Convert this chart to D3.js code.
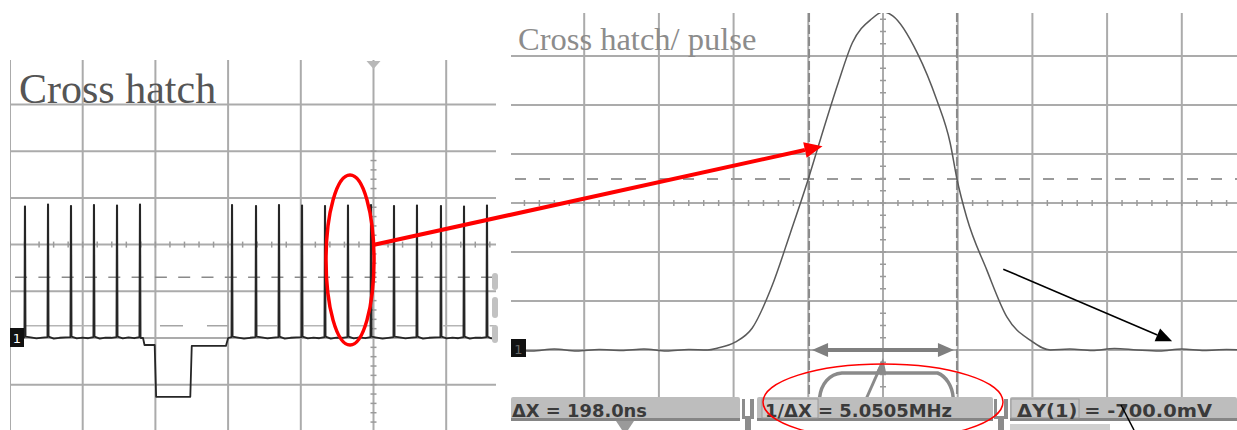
<!DOCTYPE html>
<html><head><meta charset="utf-8">
<script src="https://cdn.jsdelivr.net/npm/d3@7"></script>
<style>body{margin:0;background:#fff}svg{display:block}</style>
</head><body>
<svg id="c" width="1237" height="430"></svg>
<script>
// ---------------- data ----------------
const leftTitle = "Cross hatch";
const rightTitle = "Cross hatch/ pulse";
// Left scope (divisions: x from left edge of screen, y from trace baseline)
const leftSpikeX   = [0.206,0.523,0.839,1.155,1.472,1.788,3.054,3.384,3.700,4.017,4.333,4.649,4.966,5.282,5.598,5.928,6.245,6.561];
const leftSpikeTop = [2.82,2.86,2.83,2.85,2.84,2.86,2.85,2.83,2.85,2.84,2.83,2.84,2.85,2.83,2.84,2.83,2.82,2.84];
const leftLowX = [1.80,1.83,1.85,1.99,2.01,2.48,2.50,2.97,3.00];
const leftLowY = [0.00,0.00,-0.15,-0.15,-1.26,-1.26,-0.17,-0.17,0.00];
const leftNoise = [0.015,-0.01,0.01,-0.015,0.005,0.015,-0.01,0.01,-0.005,-0.015,0.01,0.005,-0.01,0.015,-0.005,0.01,-0.015,0.005];
// Right scope: pulse, time (ns) vs amplitude (mV)
const pulseT  = [-500,-470,-440,-410,-380,-350,-320,-290,-260,-235,-221,-198,-175,-149,-124,-100,-87,-60,-41,-15,0,13,46,72,90,99,112,139,166,197,224,250,280,310,340,370,400,430,460,480];
const pulseMV = [1,-2,2,-2,1,-1,2,-2,1,0,4,16,45,129,239,349,414,545,627,676,690,682,606,510,422,349,271,163,67,20,0,2,-1,3,0,-2,2,-1,1,0];
const cursorT = [-99, 99];
const halfLevelMV = 349;
const readouts = ["\u0394X = 198.0ns", "1/\u0394X = 5.0505MHz", "\u0394Y(1) = -700.0mV"];

// ---------------- setup ----------------
const svg = d3.select("#c");
const defs = svg.append("defs");
const gridCol = "#ababab";

// ===== LEFT SCOPE =====
const LX = d3.scaleLinear().domain([0, 1]).range([10, 82.7]);
const LY = d3.scaleLinear().domain([0, 1]).range([338, 291.3]);
defs.append("clipPath").attr("id","clipL").append("rect")
  .attr("x",10).attr("y",60).attr("width",486).attr("height",370);
const gL = svg.append("g").attr("clip-path","url(#clipL)");

gL.selectAll(".vl").data(d3.range(0,7)).join("line")
  .attr("x1",d=>LX(d)).attr("x2",d=>LX(d)).attr("y1",60).attr("y2",430)
  .attr("stroke",gridCol).attr("stroke-width",2);
gL.selectAll(".hl").data(d3.range(-1,6)).join("line")
  .attr("x1",10).attr("x2",496).attr("y1",d=>LY(d)).attr("y2",d=>LY(d))
  .attr("stroke",gridCol).attr("stroke-width",2);
gL.selectAll(".tx").data(d3.range(0,34).map(i=>i/5)).join("line")
  .attr("x1",d=>LX(d)).attr("x2",d=>LX(d)).attr("y1",LY(2)-3).attr("y2",LY(2)+3)
  .attr("stroke","#9a9a9a").attr("stroke-width",1.5);
gL.selectAll(".ty").data(d3.range(-10,21).map(i=>i/5)).join("line")
  .attr("x1",LX(5)-3).attr("x2",LX(5)+3).attr("y1",d=>LY(d)).attr("y2",d=>LY(d))
  .attr("stroke","#9a9a9a").attr("stroke-width",1.5);
gL.append("line").attr("x1",LX(0.07)).attr("x2",496).attr("y1",LY(1.3)).attr("y2",LY(1.3))
  .attr("stroke","#8a8a8a").attr("stroke-width",1.5).attr("stroke-dasharray","12,11.3");
gL.append("line").attr("x1",LX(0.21)).attr("x2",LX(1.79)).attr("y1",LY(0.26)).attr("y2",LY(0.26))
  .attr("stroke","#b5b5b5").attr("stroke-width",1.5);
gL.append("line").attr("x1",LX(2.063)).attr("x2",LX(3.0)).attr("y1",LY(0.26)).attr("y2",LY(0.26))
  .attr("stroke","#a5a5a5").attr("stroke-width",1.5).attr("stroke-dasharray","23,24");
gL.append("line").attr("x1",LX(3.40)).attr("x2",496).attr("y1",LY(0.26)).attr("y2",LY(0.26))
  .attr("stroke","#b5b5b5").attr("stroke-width",1.5).attr("stroke-dasharray","20,26.5");

const pts = [[0.19,0]];
let k = 0;
leftSpikeX.forEach((s,i)=>{
  const top = leftSpikeTop[i];
  pts.push([s-0.008,0.02],[s-0.002,top],[s+0.002,top],[s+0.008,0.03]);
  const next = i < leftSpikeX.length-1 ? leftSpikeX[i+1] : 6.8;
  if (i === 5) {
    leftLowX.forEach((x,j)=>pts.push([x,leftLowY[j]]));
  } else {
    [0.25,0.5,0.75].forEach(f=>pts.push([s+(next-s)*f, leftNoise[(k++)%leftNoise.length]]));
  }
});
gL.append("path").datum(pts)
  .attr("d", d3.line().x(d=>LX(d[0])).y(d=>LY(d[1])))
  .attr("fill","none").attr("stroke","#262626").attr("stroke-width",1.8).attr("stroke-linejoin","round");

svg.append("path").attr("d",`M${LX(5)-7},61 L${LX(5)+7},61 L${LX(5)},69 Z`).attr("fill","#b8b8b8");
[[273,290],[297,318],[325,343]].forEach(([a,b])=>{
  svg.append("rect").attr("x",492).attr("y",a).attr("width",6).attr("height",b-a).attr("rx",3).attr("fill","#c2c2c2");
});
svg.append("rect").attr("x",10).attr("y",LY(0)-10).attr("width",14).attr("height",19).attr("fill","#111");
svg.append("text").attr("x",17).attr("y",LY(0)+5).attr("text-anchor","middle")
  .attr("font-family","DejaVu Sans").attr("font-size",13).attr("fill","#fff").text("1");
svg.append("text").attr("x",19).attr("y",103).attr("font-family","Liberation Serif, serif")
  .attr("font-size",42).attr("fill","#555").text(leftTitle);

// ===== RIGHT SCOPE =====
const RX = d3.scaleLinear().domain([0,100]).range([883,957.7]);
const RY = d3.scaleLinear().domain([0,100]).range([350,301]);
defs.append("clipPath").attr("id","clipR").append("rect")
  .attr("x",511).attr("y",13).attr("width",726).attr("height",384);
const gR = svg.append("g").attr("clip-path","url(#clipR)");

gR.selectAll(".vl").data(d3.range(-400,500,100)).join("line")
  .attr("x1",d=>RX(d)).attr("x2",d=>RX(d)).attr("y1",13).attr("y2",397)
  .attr("stroke",gridCol).attr("stroke-width",2);
gR.selectAll(".hl").data(d3.range(-100,700,100)).join("line")
  .attr("x1",511).attr("x2",1237).attr("y1",d=>RY(d)).attr("y2",d=>RY(d))
  .attr("stroke",gridCol).attr("stroke-width",2);
gR.selectAll(".tx").data(d3.range(-25,25).map(i=>i*20)).join("line")
  .attr("x1",d=>RX(d)).attr("x2",d=>RX(d)).attr("y1",RY(300)-3).attr("y2",RY(300)+3)
  .attr("stroke","#9a9a9a").attr("stroke-width",1.5);
gR.selectAll(".ty").data(d3.range(-4,29).map(i=>i*25)).join("line")
  .attr("x1",RX(0)-3).attr("x2",RX(0)+3).attr("y1",d=>RY(d)).attr("y2",d=>RY(d))
  .attr("stroke","#9a9a9a").attr("stroke-width",1.5);
gR.append("line").attr("x1",515).attr("x2",1237).attr("y1",RY(halfLevelMV)).attr("y2",RY(halfLevelMV))
  .attr("stroke","#9a9a9a").attr("stroke-width",1.8).attr("stroke-dasharray","11,13");
gR.selectAll(".cur").data(cursorT).join("line")
  .attr("x1",d=>RX(d)).attr("x2",d=>RX(d)).attr("y1",13).attr("y2",397)
  .attr("stroke","#8a8a8a").attr("stroke-width",2).attr("stroke-dasharray","9,3");
gR.append("path").datum(pulseT.map((t,i)=>[t,pulseMV[i]]))
  .attr("d", d3.line().curve(d3.curveMonotoneX).x(d=>RX(d[0])).y(d=>RY(d[1])))
  .attr("fill","none").attr("stroke","#5a5a5a").attr("stroke-width",1.5);

const ay = RY(0);
const ax0 = RX(-95), ax1 = RX(95);
svg.append("line").attr("x1",ax0+12).attr("x2",ax1-12).attr("y1",ay).attr("y2",ay)
  .attr("stroke","#7f7f7f").attr("stroke-width",4);
svg.append("path").attr("d",`M${ax0},${ay} L${ax0+16},${ay-7} L${ax0+16},${ay+7} Z`).attr("fill","#7f7f7f");
svg.append("path").attr("d",`M${ax1},${ay} L${ax1-16},${ay-7} L${ax1-16},${ay+7} Z`).attr("fill","#7f7f7f");
svg.append("path")
  .attr("d",`M${RX(-85)},398 C${RX(-83)},384 ${RX(-72)},374 ${RX(-55)},373 L${RX(73)},373 C${RX(84)},376 ${RX(93)},386 ${RX(94)},398`)
  .attr("fill","none").attr("stroke","#8a8a8a").attr("stroke-width",3.5);
svg.append("line").attr("x1",RX(-22)).attr("y1",398).attr("x2",RX(-3)).attr("y2",366)
  .attr("stroke","#8a8a8a").attr("stroke-width",3);
svg.append("path").attr("d",`M${RX(0)},${ay+8} L${RX(-9)},${ay+22} L${RX(4)},${ay+22} Z`).attr("fill","#8a8a8a");

svg.append("rect").attr("x",511).attr("y",RY(0)-11).attr("width",15).attr("height",18).attr("fill","#111");
svg.append("text").attr("x",518.5).attr("y",RY(0)+4).attr("text-anchor","middle")
  .attr("font-family","DejaVu Sans").attr("font-size",13).attr("fill","#666").text("1");
svg.append("text").attr("x",518).attr("y",50).attr("font-family","Liberation Serif, serif")
  .attr("font-size",32.5).attr("fill","#8c8c8c").text(rightTitle);

const segs = [[511,740],[757,993],[1010,1237]];
segs.forEach(([a,b])=>{
  svg.append("rect").attr("x",a).attr("y",397).attr("width",b-a).attr("height",24).attr("rx",2).attr("fill","#bdbdbd");
  svg.append("rect").attr("x",a).attr("y",418).attr("width",b-a).attr("height",3).attr("fill","#858585");
});
svg.append("rect").attr("x",762).attr("y",399).attr("width",56).attr("height",19).attr("fill","#cdcdcd").attr("stroke","#9a9a9a");
svg.append("rect").attr("x",1011).attr("y",399).attr("width",68).attr("height",19).attr("fill","#c6c6c6").attr("stroke","#9a9a9a");
[[742,754],[994,1008]].forEach(([a,b])=>{
  svg.append("path").attr("d",`M${a},399 L${a+3},399 L${a+3},416 L${b-4},416 L${b-4},399 L${b},399 L${b},419 L${(a+b)/2+3},419 L${(a+b)/2+3},430 L${(a+b)/2-3},430 L${(a+b)/2-3},419 L${a},419 Z`)
    .attr("fill","#8c8c8c");
});
svg.append("path").attr("d","M616,421 L634,421 L628,430 L622,430 Z").attr("fill","#9a9a9a");
svg.append("rect").attr("x",1010).attr("y",424).attr("width",100).attr("height",6).attr("fill","#d0d0d0");
const txtPos = [[512,135],[765,187],[1017,195]];
readouts.forEach((t,i)=>{
  svg.append("text").attr("x",txtPos[i][0]).attr("y",417)
    .attr("textLength",txtPos[i][1]).attr("lengthAdjust","spacingAndGlyphs")
    .attr("font-family","DejaVu Sans").attr("font-weight","bold").attr("font-size",17)
    .attr("fill","#3a3a3a").text(t);
});

// ===== ANNOTATIONS =====
svg.append("ellipse").attr("cx",LX(4.677)).attr("cy",LY(1.67)).attr("rx",24).attr("ry",85)
  .attr("fill","none").attr("stroke","#f00").attr("stroke-width",3.5);
(function(){
  const x0 = LX(4.993), y0 = LY(1.99), x1 = RX(-81), y1 = RY(416);
  const ang = Math.atan2(y1-y0, x1-x0), L = 18, W = 8;
  const bx = x1 - L*Math.cos(ang), by = y1 - L*Math.sin(ang);
  svg.append("line").attr("x1",x0).attr("y1",y0).attr("x2",bx).attr("y2",by)
    .attr("stroke","#f00").attr("stroke-width",4);
  svg.append("path").attr("d",`M${x1},${y1} L${bx+W*Math.sin(ang)},${by-W*Math.cos(ang)} L${bx-W*Math.sin(ang)},${by+W*Math.cos(ang)} Z`).attr("fill","#f00");
})();
(function(){
  const x0 = RX(161), y0 = RY(165), x1 = RX(387), y1 = RY(18);
  const ang = Math.atan2(y1-y0, x1-x0), L = 16, W = 7;
  const bx = x1 - L*Math.cos(ang), by = y1 - L*Math.sin(ang);
  svg.append("line").attr("x1",x0).attr("y1",y0).attr("x2",bx).attr("y2",by)
    .attr("stroke","#000").attr("stroke-width",1.6);
  svg.append("path").attr("d",`M${x1},${y1} L${bx+W*Math.sin(ang)},${by-W*Math.cos(ang)} L${bx-W*Math.sin(ang)},${by+W*Math.cos(ang)} Z`).attr("fill","#000");
})();
svg.append("line").attr("x1",1121).attr("y1",405).attr("x2",1134).attr("y2",430)
  .attr("stroke","#000").attr("stroke-width",1.5);
svg.append("ellipse").attr("cx",RX(0)).attr("cy",402).attr("rx",120).attr("ry",38)
  .attr("fill","none").attr("stroke","#f00").attr("stroke-width",1.5);
</script>
</body></html>
